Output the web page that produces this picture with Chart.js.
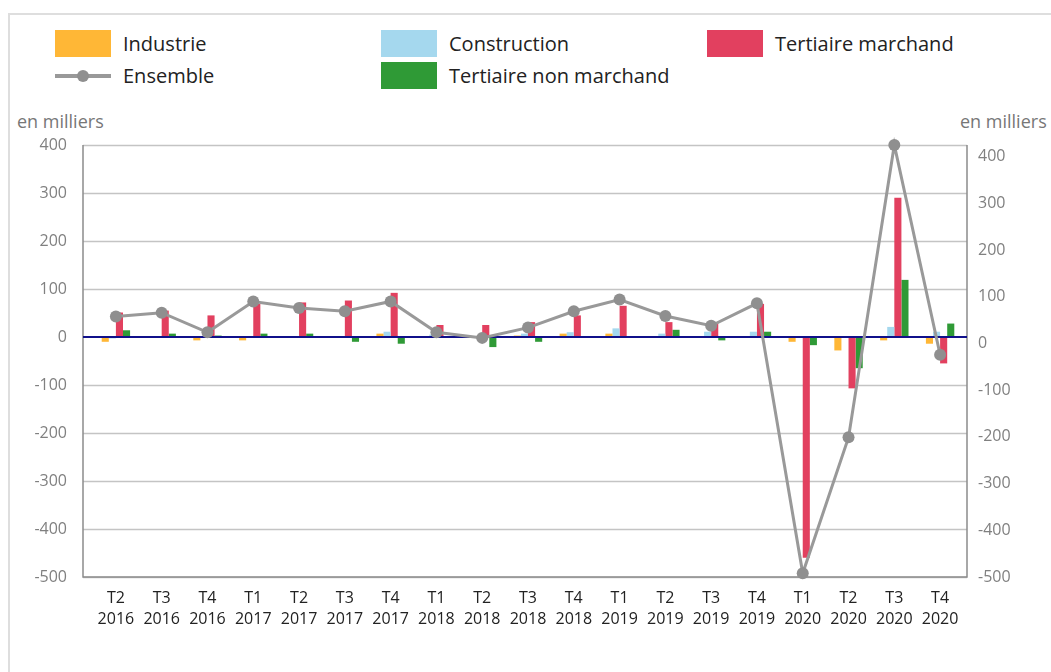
<!DOCTYPE html>
<html>
<head>
<meta charset="utf-8">
<script src="https://cdn.jsdelivr.net/npm/chart.js@4"></script>
<style>
  html, body { margin: 0; padding: 0; background: #fff; }
  body { width: 1051px; height: 672px; position: relative; overflow: hidden; font-family: 'Open Sans', sans-serif; }
  .box { position: absolute; left: 8px; top: 13px; width: 1100px; height: 700px; border: 2px solid #dedede; box-sizing: border-box; }
  #chart { position: absolute; left: 0; top: 0; }
  .unit { position: absolute; top: 109px; font-size: 18px; color: #777; }
  .leg { position: absolute; font-size: 20px; color: #222; line-height: 27px; }
  .sw { position: absolute; width: 56px; height: 27px; }
  .ln { position: absolute; width: 56px; height: 4px; background: #999; }
  .ln::after { content: ''; position: absolute; left: 22px; top: -4px; width: 12px; height: 12px; border-radius: 50%; background: #8f8f8f; }
</style>
</head>
<body>
<div class="box"></div>
<div id="legend"></div>
<div class="unit" style="left:17px">en milliers</div>
<div class="unit" style="left:960px">en milliers</div>
<canvas id="chart" width="1051" height="672"></canvas>
<script>
// quarters
const labels = [
  ['T2', '2016'], ['T3', '2016'], ['T4', '2016'],
  ['T1', '2017'], ['T2', '2017'], ['T3', '2017'], ['T4', '2017'],
  ['T1', '2018'], ['T2', '2018'], ['T3', '2018'], ['T4', '2018'],
  ['T1', '2019'], ['T2', '2019'], ['T3', '2019'], ['T4', '2019'],
  ['T1', '2020'], ['T2', '2020'], ['T3', '2020'], ['T4', '2020']
];

// variations, en milliers
const industrie = [-10, -2, -7, -7, -2, 2, 7, -2, -2, 3, 7, 7, -2, -2, -2, -10, -28, -7, -14];
const construction = [-3, -2, -2, 1, 0, -2, 11, 5, 0, 7, 10, 18, 7, 11, 11, -2, 1, 21, 11];
const tertiaireMarchand = [51, 55, 45, 69, 72, 76, 92, 25, 25, 31, 45, 65, 31, 30, 69, -460, -107, 290, -55];
const tertiaireNonMarchand = [14, 7, 3, 7, 7, -10, -14, -2, -21, -10, 2, -2, 15, -7, 11, -17, -65, 119, 28];
const ensemble = [58, 66, 24, 90, 76, 69, 90, 24, 12, 34, 69, 94, 59, 38, 86, -492, -201, 425, -24];

const colors = {
  industrie: '#ffb736',
  construction: '#a5d8ee',
  marchand: '#e2405f',
  nonMarchand: '#2f9a36',
  ensemble: '#999999'
};

// legend laid out like the original (3 columns, 2 rows)
const legendItems = [
  { text: 'Industrie', color: colors.industrie, x: 55, y: 30 },
  { text: 'Construction', color: colors.construction, x: 381, y: 30 },
  { text: 'Tertiaire marchand', color: colors.marchand, x: 707, y: 30 },
  { text: 'Ensemble', line: true, x: 55, y: 62 },
  { text: 'Tertiaire non marchand', color: colors.nonMarchand, x: 381, y: 62 }
];
const legendEl = document.getElementById('legend');
legendItems.forEach(it => {
  const mark = document.createElement('div');
  if (it.line) {
    mark.className = 'ln';
    mark.style.left = it.x + 'px';
    mark.style.top = (it.y + 12) + 'px';
  } else {
    mark.className = 'sw';
    mark.style.left = it.x + 'px';
    mark.style.top = it.y + 'px';
    mark.style.background = it.color;
  }
  legendEl.appendChild(mark);
  const txt = document.createElement('div');
  txt.className = 'leg';
  txt.textContent = it.text;
  txt.style.left = (it.x + 68) + 'px';
  txt.style.top = it.y + 'px';
  legendEl.appendChild(txt);
});

// grid + frame drawn slightly wider than the category area
const framePlugin = {
  id: 'frame',
  beforeDatasetsDraw(chart) {
    const { ctx, chartArea } = chart;
    const y = chart.scales.y;
    const L = chartArea.left - 10, R = chartArea.right + 4;
    ctx.save();
    ctx.lineWidth = 1.5;
    ctx.strokeStyle = '#c4c4c4';
    y.ticks.forEach(t => {
      if (t.value === 0) return;
      const py = Math.round(y.getPixelForValue(t.value)) + 0.5;
      ctx.beginPath();
      ctx.moveTo(L, py);
      ctx.lineTo(R, py);
      ctx.stroke();
    });
    ctx.strokeStyle = '#8c8c8c';
    ctx.beginPath();
    ctx.moveTo(L, chartArea.top);
    ctx.lineTo(L, chartArea.bottom);
    ctx.lineTo(R, chartArea.bottom);
    ctx.lineTo(R, chartArea.top);
    ctx.stroke();
    ctx.restore();
  },
  beforeDatasetDraw(chart, args) {
    if (args.index !== 4) return;
    const { ctx, chartArea } = chart;
    const py = chart.scales.y.getPixelForValue(0);
    ctx.save();
    ctx.lineWidth = 2;
    ctx.strokeStyle = '#10108a';
    ctx.beginPath();
    ctx.moveTo(chartArea.left - 10, py);
    ctx.lineTo(chartArea.right + 4, py);
    ctx.stroke();
    ctx.restore();
  }
};

const barCommon = { type: 'bar', yAxisID: 'y', order: 1, barPercentage: 1, categoryPercentage: 0.62 };

new Chart(document.getElementById('chart').getContext('2d'), {
  data: {
    labels: labels,
    datasets: [
      { ...barCommon, label: 'Industrie', data: industrie, backgroundColor: colors.industrie },
      { ...barCommon, label: 'Construction', data: construction, backgroundColor: colors.construction },
      { ...barCommon, label: 'Tertiaire marchand', data: tertiaireMarchand, backgroundColor: colors.marchand },
      { ...barCommon, label: 'Tertiaire non marchand', data: tertiaireNonMarchand, backgroundColor: colors.nonMarchand },
      {
        type: 'line', label: 'Ensemble', data: ensemble, yAxisID: 'y1', order: 0,
        borderColor: colors.ensemble, borderWidth: 3, tension: 0,
        pointRadius: 6, pointBackgroundColor: '#8f8f8f', pointBorderWidth: 0,
        clip: false
      }
    ]
  },
  options: {
    responsive: false,
    animation: false,
    devicePixelRatio: 1,
    layout: { padding: { top: 145, left: 0, right: 0, bottom: 0 } },
    plugins: { legend: { display: false }, tooltip: { enabled: false } },
    scales: {
      x: {
        grid: { display: false },
        border: { display: false },
        ticks: { color: '#222', font: { family: 'Open Sans', size: 16, lineHeight: 1.3 }, padding: 3, maxRotation: 0, autoSkip: false },
        afterFit: s => { s.height = 95; }
      },
      y: {
        position: 'left',
        min: -500, max: 400,
        grid: { display: false },
        border: { display: false },
        ticks: { stepSize: 100, color: '#808080', padding: 18, font: { family: 'Open Sans', size: 16 } },
        afterFit: s => { s.width = 93; }
      },
      y1: {
        position: 'right',
        min: -500, max: 425,
        grid: { display: false },
        border: { display: false },
        ticks: { stepSize: 100, includeBounds: false, color: '#808080', padding: 7, font: { family: 'Open Sans', size: 16 } },
        afterFit: s => { s.width = 88; }
      }
    }
  },
  plugins: [framePlugin]
});
</script>
</body>
</html>
